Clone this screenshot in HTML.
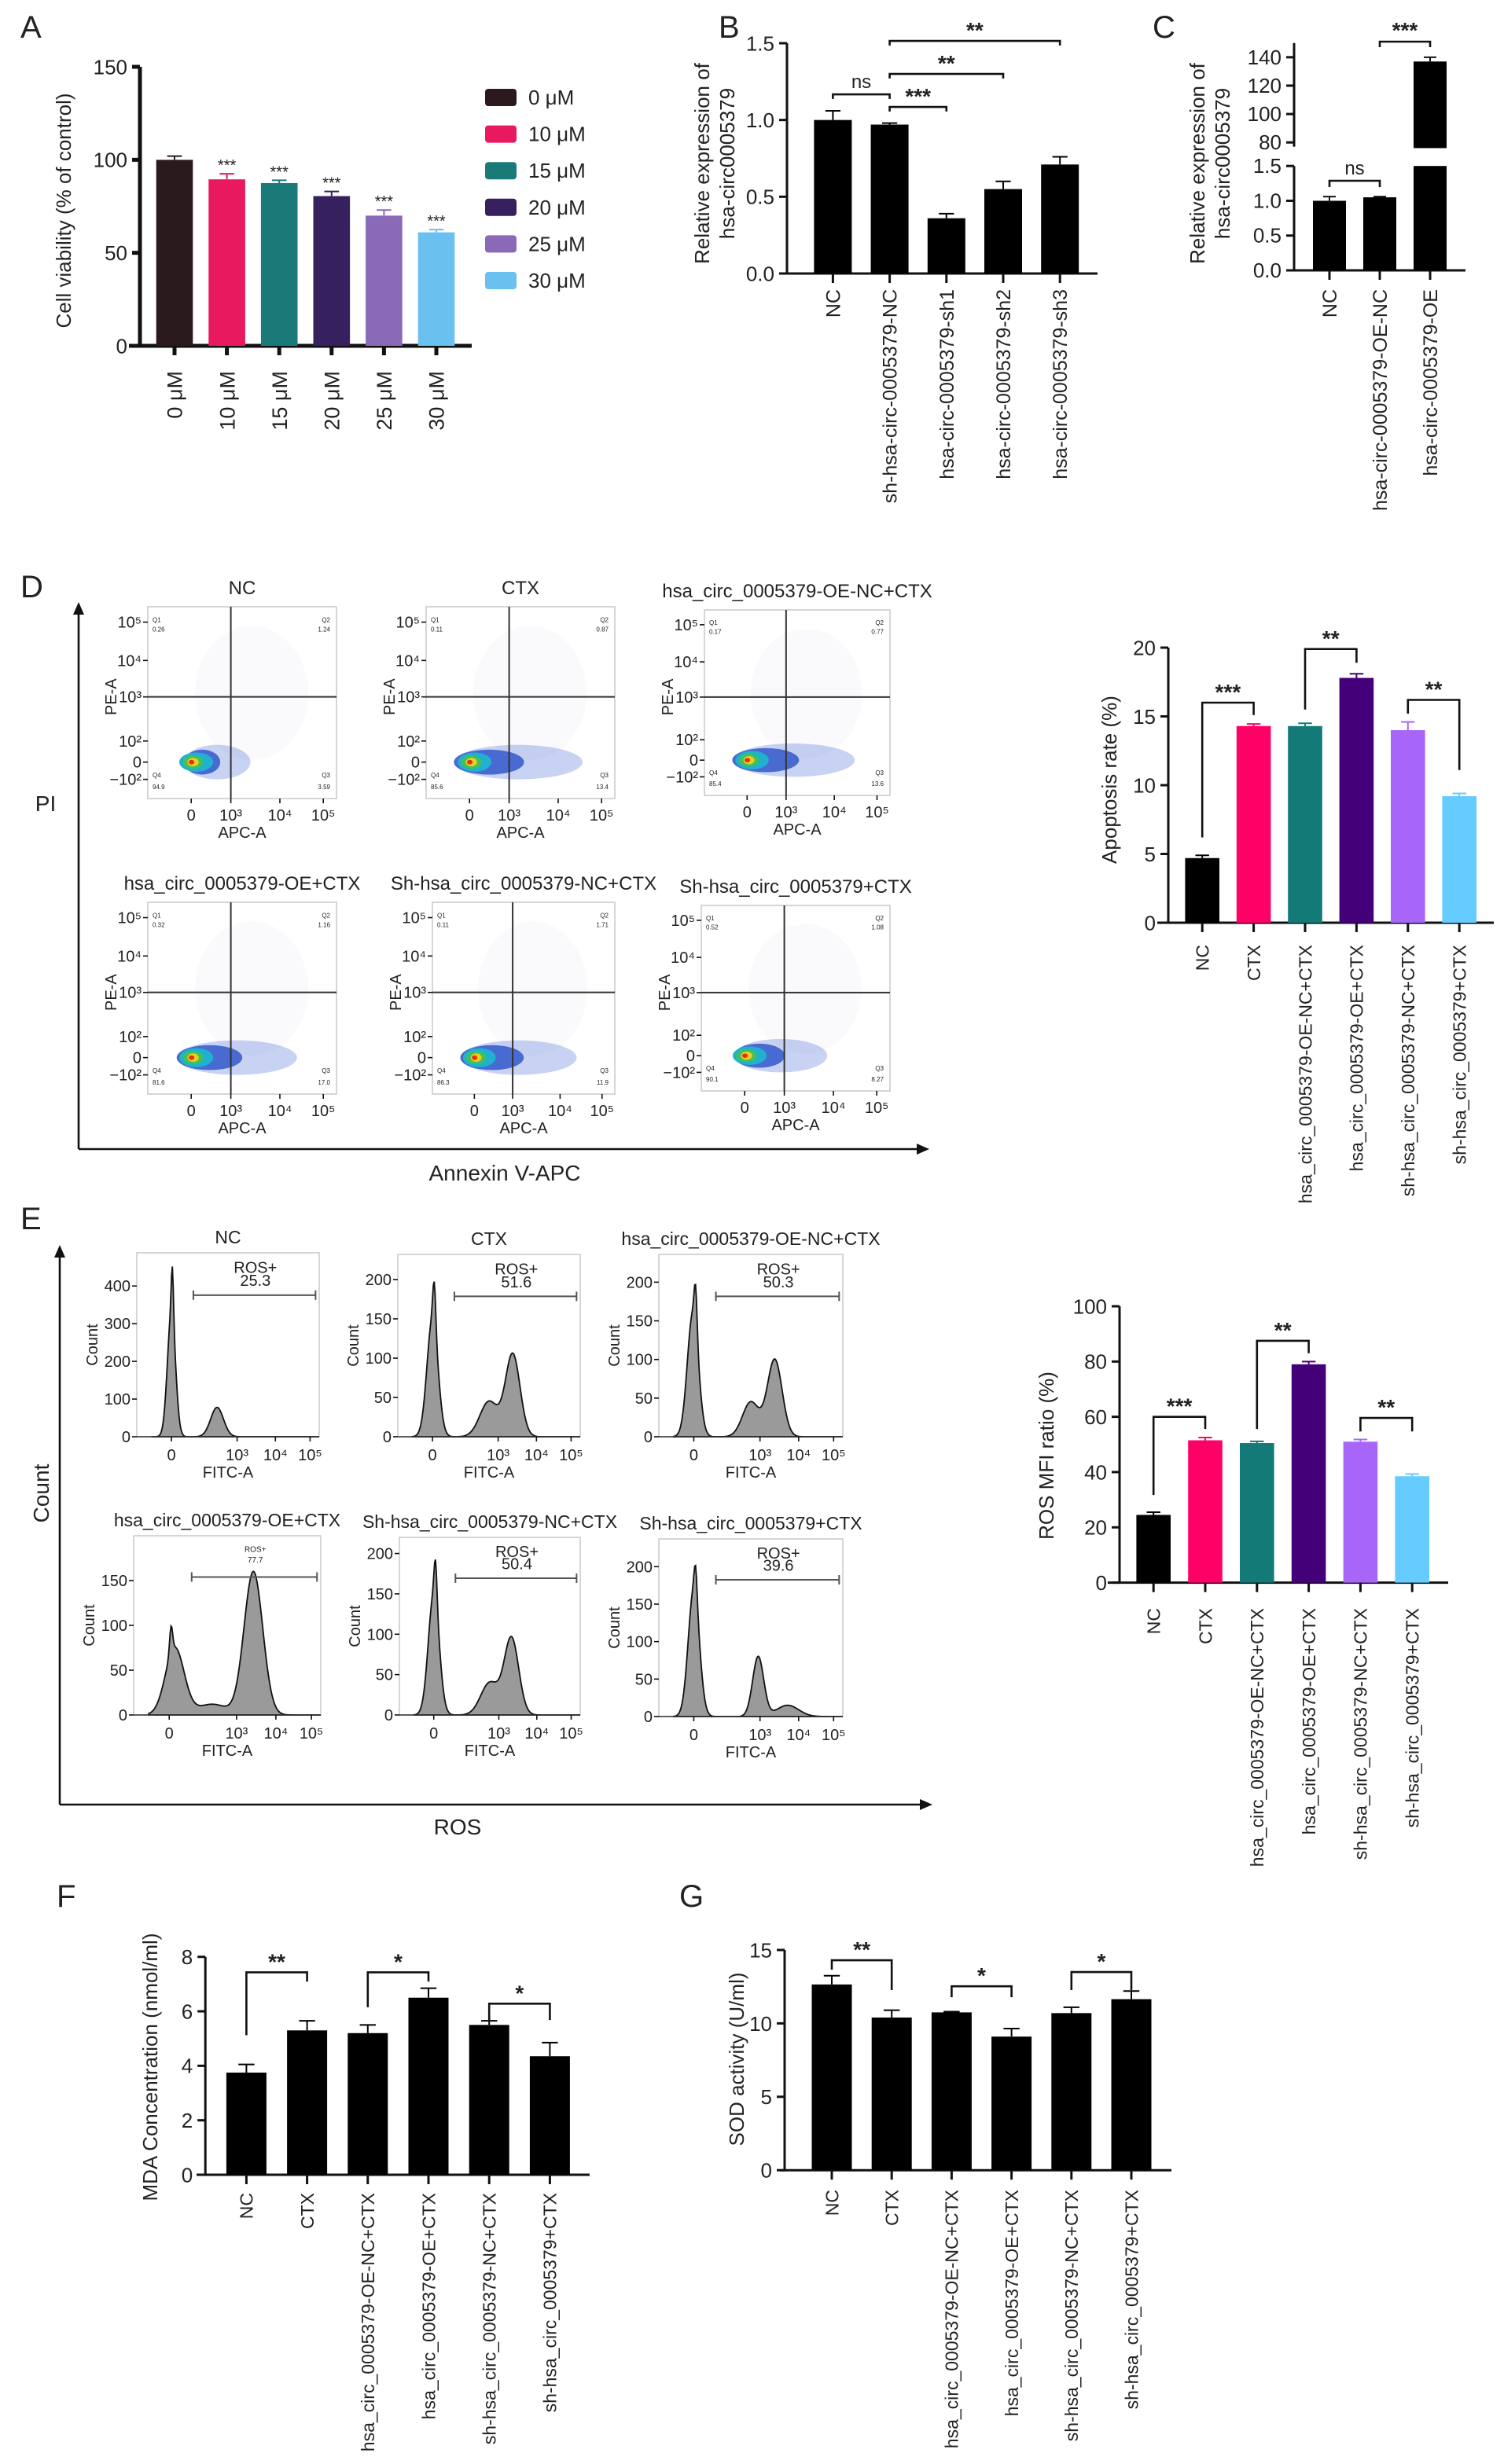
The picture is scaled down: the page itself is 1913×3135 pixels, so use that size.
<!DOCTYPE html>
<html><head><meta charset="utf-8">
<style>
html,body{margin:0;padding:0;background:#fff;}
svg{display:block;}
text{font-family:"Liberation Sans",Arial,sans-serif;fill:#222;}
</style></head>
<body>
<svg id="fig" xmlns="http://www.w3.org/2000/svg" width="1913" height="3135" viewBox="0 0 956.5 1567.5"></svg>
<script>
// ---------- DATA ----------
const aCats=['0 μM','10 μM','15 μM','20 μM','25 μM','30 μM'];
const aVals=[100,89.5,87.5,80.5,70,61];
const aErrs=[2,3,1.5,2.5,3,1.5];
const aStars=['','***','***','***','***','***'];
const aTicks=[0,50,100,150];
const bCats=['NC','sh-hsa-circ-0005379-NC','hsa-circ-0005379-sh1','hsa-circ-0005379-sh2','hsa-circ-0005379-sh3'];
const bVals=[1.0,0.97,0.36,0.55,0.71];
const bErrs=[0.06,0.01,0.03,0.05,0.05];
const bTicks=[0,0.5,1.0,1.5];
const bBrackets=[[0,1,1.167,1.137,1.137,'ns'],[1,2,1.085,1.055,1.055,'***'],[1,3,1.30,1.27,1.27,'**'],[1,4,1.515,1.485,1.485,'**']];
const cCats=['NC','hsa-circ-0005379-OE-NC','hsa-circ-0005379-OE'];
const cVals=[1.0,1.05,137];
const cErrs=[0.06,0.01,3];
const cLowTicks=[0,0.5,1.0,1.5];
const cHighTicks=[80,100,120,140];
const grpCats=['NC','CTX','hsa_circ_0005379-OE-NC+CTX','hsa_circ_0005379-OE+CTX','sh-hsa_circ_0005379-NC+CTX','sh-hsa_circ_0005379+CTX'];
const grpCats2=['NC','CTX','hsa_circ_0005379-OE-NC+CTX','hsa_circ_0005379-OE+CTX','sh-hsa_circ_0005379-NC+CTX','sh-hsa_circ_0005379+CTX'];
const dVals=[4.7,14.3,14.3,17.8,14.0,9.2];
const dErrs=[0.2,0.15,0.2,0.3,0.6,0.2];
const dTicks=[0,5,10,15,20];
const dBrackets=[[0,1,16.0,6.2,15.1,'***'],[2,3,19.9,15.5,18.9,'**'],[4,5,16.2,15.2,11.1,'**']];
const eVals=[24.5,51.5,50.5,79,51,38.5];
const eErrs=[1,1,0.6,1,0.8,0.8];
const eTicks=[0,20,40,60,80,100];
const eBrackets=[[0,1,60,31.7,55.6,'***'],[2,3,87.5,55.6,83,'**'],[4,5,59.6,54.7,54.7,'**']];
const fVals=[3.75,5.3,5.2,6.5,5.5,4.35];
const fErrs=[0.3,0.35,0.3,0.35,0.15,0.5];
const fTicks=[0,2,4,6,8];
const fBrackets=[[0,1,7.43,5.12,7.09,'**'],[2,3,7.43,6.15,7.09,'*'],[4,5,6.28,5.68,5.68,'*']];
const gVals=[12.65,10.4,10.75,9.1,10.7,11.65];
const gErrs=[0.6,0.5,0.05,0.55,0.4,0.55];
const gTicks=[0,5,10,15];
const gBrackets=[[0,1,14.3,13.66,12.27,'**'],[2,3,12.53,11.78,11.78,'*'],[4,5,13.5,12.27,12.27,'*']];
const flowTitles=['NC','CTX','hsa_circ_0005379-OE-NC+CTX','hsa_circ_0005379-OE+CTX','Sh-hsa_circ_0005379-NC+CTX','Sh-hsa_circ_0005379+CTX'];
const flowQ1=['0.26','0.11','0.17','0.32','0.11','0.52'];
const flowQ2=['1.24','0.87','0.77','1.16','1.71','1.08'];
const flowQ3=['3.59','13.4','13.6','17.0','11.9','8.27'];
const flowQ4=['94.9','85.6','85.4','81.6','86.3','90.1'];
const flowSpread=[0.32,0.62,0.6,0.58,0.58,0.45];
const histTitles=['NC','CTX','hsa_circ_0005379-OE-NC+CTX','hsa_circ_0005379-OE+CTX','Sh-hsa_circ_0005379-NC+CTX','Sh-hsa_circ_0005379+CTX'];
const histRos=['25.3','51.6','50.3','77.7','50.4','39.6'];
const histMax=[488,232,236,200,220,237];
const histTicks=[[0,100,200,300,400],[0,50,100,150,200],[0,50,100,150,200],[0,50,100,150],[0,50,100,150,200],[0,50,100,150,200]];
const histPeaks=[
 [[0.19,330,0.022],[0.195,130,0.006],[0.44,78,0.035]],
 [[0.19,150,0.03],[0.2,55,0.008],[0.5,45,0.05],[0.63,105,0.04]],
 [[0.185,160,0.03],[0.2,55,0.008],[0.5,45,0.045],[0.63,100,0.04]],
 [[0.22,75,0.05],[0.2,30,0.008],[0.42,12,0.08],[0.64,160,0.05]],
 [[0.19,150,0.03],[0.2,50,0.008],[0.5,40,0.05],[0.62,95,0.04]],
 [[0.19,170,0.03],[0.2,40,0.008],[0.54,80,0.03],[0.7,15,0.06]]
];
const apColors=['#000000','#ff0066','#147a78','#440078','#a866f8','#66ccff'];
const aColors=['#2a1a1e','#e8195e','#1a7a78','#36205e','#8a6ab8','#6ac0ee'];

// ---------- HELPERS ----------
const NS='http://www.w3.org/2000/svg';
const svg=document.getElementById('fig');
function mk(tag,parent,attrs,name){
 const e=document.createElementNS(NS,tag);
 for(const k in attrs) e.setAttribute(k,attrs[k]);
 
 
 parent.appendChild(e);return e;
}
function tx(parent,x,y,s,size,name,anchor,rot,extra){
 const a={x:x,y:y,'font-size':size,'text-anchor':anchor||'start'};
 if(rot) a.transform='rotate(-90 '+x+' '+y+')';
 if(extra) for(const k in extra) a[k]=extra[k];
 const t=mk('text',parent,a,name);
 t.textContent=s;return t;
}
function grp(name){return mk('g',svg,{},name);}
function line(p,x1,y1,x2,y2,w,name,col){return mk('line',p,{x1:x1,y1:y1,x2:x2,y2:y2,stroke:col||'#111','stroke-width':w},name);}

function barChart(c){
 const g=grp(c.name);
 const ys=v=>c.y0-v*c.ppu;
 const xs=i=>c.x0+i*c.step;
 const top=ys(c.ticks[c.ticks.length-1]);
 line(g,c.axX,c.y0,c.axX,top,c.lw,'y-axis-line');
 line(g,c.xStart,c.y0,c.axRight,c.y0,c.lw,'x-axis-line');
 c.ticks.forEach(t=>{
  line(g,c.axX-5,ys(t),c.axX,ys(t),c.lw,'y-tick');
  tx(g,c.axX-8,ys(t)+c.tfs*0.36,c.fmt?c.fmt(t):String(t),c.tfs,'y-tick-label','end');
 });
 c.vals.forEach((v,i)=>{
  const x=xs(i);
  mk('rect',g,{x:x-c.bw/2,y:ys(v),width:c.bw,height:c.y0-ys(v),fill:c.colors[i]},'bar-'+i);
  const et=ys(v+c.errs[i]);
  line(g,x,ys(v),x,et,1,'error-bar',c.colors[i]);
  line(g,x-c.bw*0.2,et,x+c.bw*0.2,et,1,'error-cap',c.colors[i]);
  line(g,x,c.y0,x,c.y0+6,c.lw,'x-tick');
  tx(g,x+c.lfs*0.36,c.labelY,c.cats[i],c.lfs,'x-category-label','end',true);
 });
 tx(g,c.titleX,c.titleY,c.title,c.titleSize||13,'y-axis-title','middle',true);
 if(c.title2) tx(g,c.titleX+16,c.titleY,c.title2,c.titleSize||13,'y-axis-title-line2','middle',true);
 (c.brackets||[]).forEach(b=>{
  const x1=xs(b[0]),x2=xs(b[1]),y=ys(b[2]);
  mk('path',g,{d:'M'+x1+' '+ys(b[3])+'V'+y+'H'+x2+'V'+ys(b[4]),fill:'none',stroke:'#111','stroke-width':1.3},'significance-bracket');
  if(b[5]==='ns') tx(g,(x1+x2)/2,y-4,b[5],12,'significance-label','middle');
  else tx(g,(x1+x2)/2,y-2,b[5],14,'significance-label','middle',false,{'font-weight':'bold'});
 });
 if(c.stars) c.stars.forEach((s,i)=>{ if(s) tx(g,xs(i),ys(c.vals[i]+c.errs[i])-2,s,10,'significance-stars','middle'); });
 return g;
}

function arrowAxes(name,x,yb,yt,xr,lab1,l1x,l1y,lab2,l2x,l2y){
 const g=grp(name);
 line(g,x,yb,x,yt+6,1.3,'vertical-arrow-line');
 mk('polygon',g,{points:(x-3.5)+','+(yt+8)+' '+x+','+yt+' '+(x+3.5)+','+(yt+8),fill:'#111'},'vertical-arrow-head');
 line(g,x,yb,xr-6,yb,1.3,'horizontal-arrow-line');
 mk('polygon',g,{points:(xr-8)+','+(yb-3.5)+' '+xr+','+yb+' '+(xr-8)+','+(yb+3.5),fill:'#111'},'horizontal-arrow-head');
 tx(g,l1x,l1y,lab1,14,'vertical-axis-label','middle',lab1.length>2);
 tx(g,l2x,l2y,lab2,14,'horizontal-axis-label','middle');
}

function flow(i,x,y,w,h){
 const g=grp('flow-plot-'+i);
 tx(g,x+w/2,y-8,flowTitles[i],12,'flow-plot-title','middle');
 mk('rect',g,{x:x,y:y,width:w,height:h,fill:'#fff',stroke:'#ccc','stroke-width':0.8},'plot-frame');
 const cx=x+0.24*w, cy=y+0.81*h, sp=flowSpread[i]*w;
 mk('ellipse',g,{cx:x+0.55*w,cy:y+0.45*h,rx:0.3*w,ry:0.35*h,fill:'#9aa0e0',opacity:0.05},'sparse-events');
 mk('ellipse',g,{cx:cx+sp*0.4,cy:cy,rx:sp*0.55,ry:0.09*h,fill:'#4a6ad8',opacity:0.3},'event-cloud');
 mk('ellipse',g,{cx:cx+sp*0.15,cy:cy,rx:sp*0.3,ry:0.065*h,fill:'#2850c8',opacity:0.8},'event-density-blue');
 mk('ellipse',g,{cx:cx+2,cy:cy,rx:0.09*w,ry:0.05*h,fill:'#20b0d0'},'event-density-cyan');
 mk('ellipse',g,{cx:cx,cy:cy,rx:0.055*w,ry:0.035*h,fill:'#40c060'},'event-density-green');
 mk('ellipse',g,{cx:cx,cy:cy,rx:0.03*w,ry:0.022*h,fill:'#e8d020'},'event-density-yellow');
 mk('ellipse',g,{cx:cx-1,cy:cy,rx:0.015*w,ry:0.012*h,fill:'#e83010'},'event-density-red');
 line(g,x+0.44*w,y,x+0.44*w,y+h,1,'quadrant-vertical-gate','#333');
 line(g,x,y+0.47*h,x+w,y+0.47*h,1,'quadrant-horizontal-gate','#333');
 const yl=['10⁵','10⁴','10³','10²','0','−10²'],yp=[0.08,0.28,0.47,0.70,0.81,0.90];
 yl.forEach((s,k)=>{line(g,x-3,y+yp[k]*h,x,y+yp[k]*h,0.8,'y-tick');tx(g,x-4,y+yp[k]*h+3.5,s,10,'y-tick-label','end');});
 const xl=['0','10³','10⁴','10⁵'],xp=[0.23,0.44,0.70,0.93];
 xl.forEach((s,k)=>{line(g,x+xp[k]*w,y+h,x+xp[k]*w,y+h+3,0.8,'x-tick');tx(g,x+xp[k]*w,y+h+14,s,10,'x-tick-label','middle');});
 tx(g,x+w/2,y+h+25,'APC-A',10,'x-axis-title','middle');
 tx(g,x-20,y+h*0.47,'PE-A',10,'y-axis-title','middle',true);
 tx(g,x+3,y+0.08*h,'Q1',4,'quadrant-name');tx(g,x+3,y+0.13*h,flowQ1[i],4,'quadrant-value');
 tx(g,x+w-4,y+0.08*h,'Q2',4,'quadrant-name','end');tx(g,x+w-4,y+0.13*h,flowQ2[i],4,'quadrant-value','end');
 tx(g,x+w-4,y+0.89*h,'Q3',4,'quadrant-name','end');tx(g,x+w-4,y+0.95*h,flowQ3[i],4,'quadrant-value','end');
 tx(g,x+3,y+0.89*h,'Q4',4,'quadrant-name');tx(g,x+3,y+0.95*h,flowQ4[i],4,'quadrant-value');
}

function hist(i,x,y,w,h){
 const g=grp('histogram-'+i);
 tx(g,x+w/2,y-6,histTitles[i],11.5,'histogram-title','middle');
 mk('rect',g,{x:x,y:y,width:w,height:h,fill:'#fff',stroke:'#ccc','stroke-width':0.8},'plot-frame');
 const yv=v=>y+h-v/histMax[i]*h;
 let d='M'+(x+0.08*w)+' '+(y+h);
 for(let k=0;k<=200;k++){
  const r=0.08+k*(0.92/200);
  let c=0; histPeaks[i].forEach(p=>{c+=p[1]*Math.exp(-Math.pow((r-p[0])/p[2],2)/2);});
  d+=' L'+(x+r*w).toFixed(2)+' '+yv(c).toFixed(2);
 }
 d+=' L'+(x+w)+' '+(y+h)+'Z';
 mk('path',g,{d:d,fill:'#9a9a9a',stroke:'#111','stroke-width':0.9},'histogram-area');
 line(g,x,y+h,x+w,y+h,0.8,'x-axis-line','#333');
 histTicks[i].forEach(t=>{line(g,x-3,yv(t),x,yv(t),0.8,'y-tick');tx(g,x-4,yv(t)+3.5,String(t),10,'y-tick-label','end');});
 const xl=['0','10³','10⁴','10⁵'],xp=[0.19,0.55,0.76,0.95];
 xl.forEach((s,k)=>{line(g,x+xp[k]*w,y+h,x+xp[k]*w,y+h+3,0.8,'x-tick');tx(g,x+xp[k]*w,y+h+15,s,10,'x-tick-label','middle');});
 tx(g,x+w/2,y+h+26,'FITC-A',10,'x-axis-title','middle');
 tx(g,x-25,y+h/2,'Count',10,'y-axis-title','middle',true);
 const gy=y+0.23*h;
 line(g,x+0.31*w,gy,x+0.98*w,gy,1,'gate-line','#555');
 line(g,x+0.31*w,gy-3,x+0.31*w,gy+3,1,'gate-end','#555');
 line(g,x+0.98*w,gy-3,x+0.98*w,gy+3,1,'gate-end','#555');
 const small=i===3;
 tx(g,x+0.65*w,y+(small?0.09:0.11)*h,'ROS+',small?5:10,'gate-name','middle',false,small?{fill:'#888'}:null);
 tx(g,x+0.65*w,y+(small?0.15:0.18)*h,histRos[i],small?5:10,'gate-percent','middle',false,small?{fill:'#888'}:null);
}

// ---------- PANEL LETTERS ----------
[['A',13,24],['B',457,24],['C',733,24],['D',13,380],['E',13,782],['F',36,1213],['G',432,1213]].forEach(p=>{
 tx(svg,p[1],p[2],p[0],20,'panel-label-'+p[0].toLowerCase());
});

// ---------- A ----------
barChart({name:'chart-a-cell-viability',axX:89,xStart:82,axRight:300,y0:220,ppu:1.1833,x0:111,step:33.3,bw:23.3,lw:2.5,
 vals:aVals,errs:aErrs,colors:aColors,cats:aCats,ticks:aTicks,tfs:13,lfs:13.5,labelY:236,
 title:'Cell viability (% of control)',titleX:45,titleY:134,stars:aStars});
const legA=grp('legend-a');
aCats.forEach((c,i)=>{
 mk('rect',legA,{x:308.5,y:56.5+i*23.3,width:20,height:11,rx:2,fill:aColors[i]},'legend-swatch');
 tx(legA,336,66.5+i*23.3,c,13,'legend-entry');
});

// ---------- B ----------
barChart({name:'chart-b-knockdown',axX:500.5,xStart:497,axRight:698,y0:174,ppu:97.67,x0:529.7,step:36.1,bw:24,lw:1.5,
 vals:bVals,errs:bErrs,colors:['#000','#000','#000','#000','#000'],cats:bCats,ticks:bTicks,tfs:13,lfs:12.5,labelY:184,
 fmt:v=>v.toFixed(1),title:'Relative expression of',title2:'hsa-circ0005379',titleX:451,titleY:104,brackets:bBrackets});

// ---------- C (broken axis) ----------
(function(){
 const g=grp('chart-c-overexpression');
 const ax=823, lowY0=172, lowPpu=44.27, hiY80=90.6, hiPpu=0.903;
 const yL=v=>lowY0-v*lowPpu, yH=v=>hiY80-(v-80)*hiPpu;
 const xs=i=>845.5+i*32, bw=21;
 line(g,ax,lowY0,ax,yL(1.5),1.5,'y-axis-lower');
 line(g,ax,yH(77),ax,yH(150),1.5,'y-axis-upper');
 line(g,ax-4,lowY0,932,lowY0,1.5,'x-axis-line');
 cLowTicks.forEach(t=>{line(g,ax-5,yL(t),ax,yL(t),1.5,'y-tick');tx(g,ax-8,yL(t)+4.5,t.toFixed(1),13,'y-tick-label','end');});
 cHighTicks.forEach(t=>{line(g,ax-5,yH(t),ax,yH(t),1.5,'y-tick');tx(g,ax-8,yH(t)+4.5,String(t),13,'y-tick-label','end');});
 cVals.forEach((v,i)=>{
  const x=xs(i);
  if(v<=1.5){
   mk('rect',g,{x:x-bw/2,y:yL(v),width:bw,height:lowY0-yL(v),fill:'#000'},'bar-'+i);
   line(g,x,yL(v),x,yL(v+cErrs[i]),1,'error-bar');line(g,x-4,yL(v+cErrs[i]),x+4,yL(v+cErrs[i]),1,'error-cap');
  } else {
   mk('rect',g,{x:x-bw/2,y:yL(1.5),width:bw,height:lowY0-yL(1.5),fill:'#000'},'bar-'+i+'-lower');
   mk('rect',g,{x:x-bw/2,y:yH(v),width:bw,height:yH(76)-yH(v),fill:'#000'},'bar-'+i+'-upper');
   line(g,x,yH(v),x,yH(v+cErrs[i]),1,'error-bar');line(g,x-4,yH(v+cErrs[i]),x+4,yH(v+cErrs[i]),1,'error-cap');
  }
  line(g,x,lowY0,x,lowY0+6,1.5,'x-tick');
  tx(g,x+4.5,184,cCats[i],12.5,'x-category-label','end',true);
 });
 mk('path',g,{d:'M'+xs(0)+' 119V115H'+xs(1)+'V119',fill:'none',stroke:'#111','stroke-width':1.3},'significance-bracket');
 tx(g,(xs(0)+xs(1))/2,111,'ns',12,'significance-label','middle');
 mk('path',g,{d:'M'+xs(1)+' 30V26.5H'+xs(2)+'V30',fill:'none',stroke:'#111','stroke-width':1.3},'significance-bracket');
 tx(g,(xs(1)+xs(2))/2,24,'***',14,'significance-label','middle',false,{'font-weight':'bold'});
 tx(g,766,104,'Relative expression of',13,'y-axis-title','middle',true);
 tx(g,782,104,'hsa-circ0005379',13,'y-axis-title-line2','middle',true);
})();

// ---------- D ----------
arrowAxes('panel-d-axes',50,731,383,591,'PI',29,516,'Annexin V-APC',321,751);
[[94,386,120,122],[271,386,120,122],[448,388,118,118],[94,574,120,122],[275,574,116,122],[446,576,120,118]].forEach((b,i)=>flow(i,b[0],b[1],b[2],b[3]));
barChart({name:'chart-d-apoptosis-rate',axX:743,xStart:736,axRight:950,y0:587,ppu:8.75,x0:764.6,step:32.7,bw:21.8,lw:1.5,
 vals:dVals,errs:dErrs,colors:apColors,cats:grpCats,ticks:dTicks,tfs:13,lfs:11.5,labelY:601,
 title:'Apoptosis rate (%)',titleX:710,titleY:496,brackets:dBrackets});

// ---------- E ----------
arrowAxes('panel-e-axes',38,1148,792,593,'Count',31,950,'ROS',291,1167);
[[87,797,116,117],[253,798,116,116],[419,798,117,116],[85,977,119,114],[254,978,115,113],[419,979,117,113]].forEach((b,i)=>hist(i,b[0],b[1],b[2],b[3]));
barChart({name:'chart-e-ros-mfi',axX:712,xStart:704.5,axRight:921,y0:1006.8,ppu:1.758,x0:733.6,step:32.9,bw:21.8,lw:1.5,
 vals:eVals,errs:eErrs,colors:apColors,cats:grpCats2,ticks:eTicks,tfs:13,lfs:11.5,labelY:1023,
 title:'ROS MFI ratio (%)',titleX:670,titleY:926,brackets:eBrackets});

// ---------- F ----------
barChart({name:'chart-f-mda',axX:130.6,xStart:125,axRight:375,y0:1383.5,ppu:17.33,x0:156.7,step:38.6,bw:25.5,lw:1.5,
 vals:fVals,errs:fErrs,colors:['#000','#000','#000','#000','#000','#000'],cats:grpCats,ticks:fTicks,tfs:13,lfs:11.5,labelY:1395,
 title:'MDA Concentration (nmol/ml)',titleX:100,titleY:1315,brackets:fBrackets});

// ---------- G ----------
barChart({name:'chart-g-sod',axX:499,xStart:496,axRight:745,y0:1380.6,ppu:9.34,x0:529,step:38.1,bw:25.5,lw:1.5,
 vals:gVals,errs:gErrs,colors:['#000','#000','#000','#000','#000','#000'],cats:grpCats,ticks:gTicks,tfs:13,lfs:11.5,labelY:1393,
 title:'SOD activity (U/ml)',titleX:473,titleY:1310,brackets:gBrackets});
</script>
</body></html>
